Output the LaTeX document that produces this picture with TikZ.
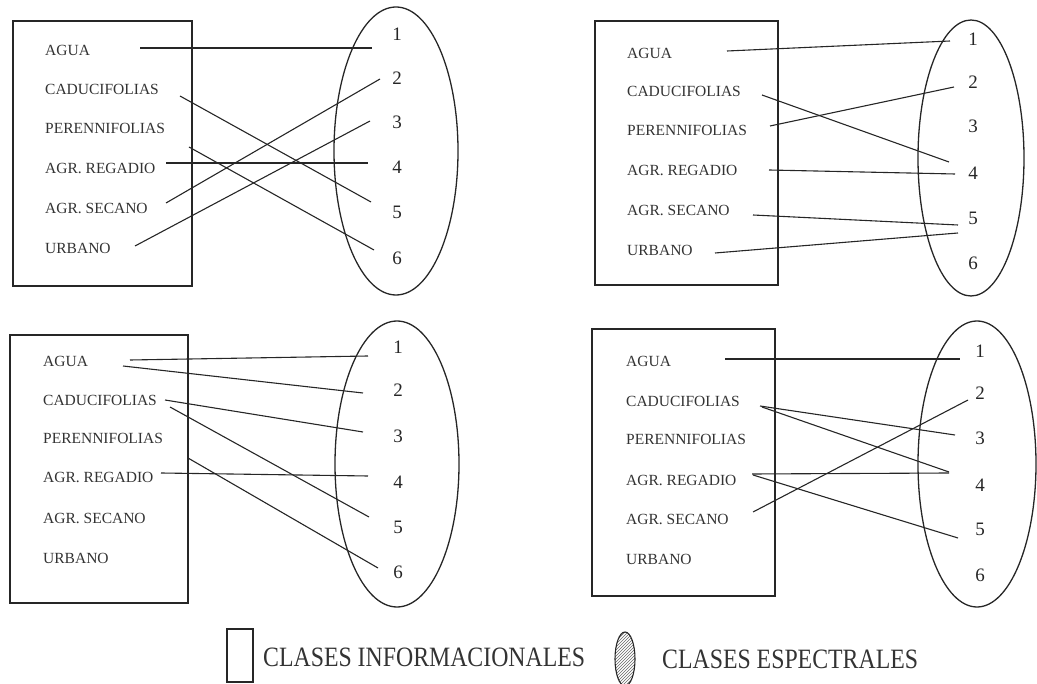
\documentclass[tikz,border=0pt]{standalone}
\usepackage{fontspec}
\setmainfont{Liberation Serif}
\usetikzlibrary{patterns}
\begin{document}
\begin{tikzpicture}[x=1pt,y=-1pt,
  ink/.style={draw=black!85},
  infobox/.style={ink,line width=1.3pt},
  specoval/.style={ink,line width=1.3pt},
  link/.style={ink,line width=1.1pt},
  clase/.style={anchor=west,inner sep=0pt,text=black!80,font=\fontsize{15.5}{16}\selectfont},
  num/.style={inner sep=0pt,text=black!85,font=\fontsize{19}{20}\selectfont},
  legtext/.style={anchor=west,inner sep=0pt,text=black!80,xscale=0.85,font=\fontsize{28}{30}\selectfont}]
\useasboundingbox (0,0) rectangle (1037,684);

% ---------------- upper left ----------------
\draw[infobox] (13,21) rectangle (192,286);
\draw[specoval] (396,151) ellipse [x radius=62,y radius=144];
\node[clase] (a-agua) at (45,50) {AGUA};
\node[clase] (a-cad) at (45,89) {CADUCIFOLIAS};
\node[clase] (a-per) at (45,128) {PERENNIFOLIAS};
\node[clase] (a-reg) at (45,168) {AGR. REGADIO};
\node[clase] (a-sec) at (45,208) {AGR. SECANO};
\node[clase] (a-urb) at (45,248) {URBANO};
\node[num] (a1) at (397,34) {1};
\node[num] (a2) at (397,78) {2};
\node[num] (a3) at (397,122) {3};
\node[num] (a4) at (397,167) {4};
\node[num] (a5) at (397,212) {5};
\node[num] (a6) at (397,258) {6};
\coordinate (a-agua-o) at (140,48);  \coordinate (a1-i) at (372,48);
\coordinate (a-cad-o) at (180,96);   \coordinate (a5-i) at (371,202);
\coordinate (a-per-o) at (189,147);  \coordinate (a6-i) at (374,250);
\coordinate (a-reg-o) at (166,163);  \coordinate (a4-i) at (368,163);
\coordinate (a-sec-o) at (166,203);  \coordinate (a2-i) at (380,79);
\coordinate (a-urb-o) at (135,246);  \coordinate (a3-i) at (370,121);
\draw[link] (a-agua-o) -- (a1-i);
\draw[link] (a-cad-o) -- (a5-i);
\draw[link] (a-per-o) -- (a6-i);
\draw[link] (a-reg-o) -- (a4-i);
\draw[link] (a-sec-o) -- (a2-i);
\draw[link] (a-urb-o) -- (a3-i);

% ---------------- upper right ----------------
\draw[infobox] (595,21) rectangle (778,285);
\draw[specoval] (971,158) ellipse [x radius=53,y radius=138];
\node[clase] (b-agua) at (627,53) {AGUA};
\node[clase] (b-cad) at (627,91) {CADUCIFOLIAS};
\node[clase] (b-per) at (627,130) {PERENNIFOLIAS};
\node[clase] (b-reg) at (627,170) {AGR. REGADIO};
\node[clase] (b-sec) at (627,210) {AGR. SECANO};
\node[clase] (b-urb) at (627,250) {URBANO};
\node[num] (b1) at (973,39) {1};
\node[num] (b2) at (973,82) {2};
\node[num] (b3) at (973,126) {3};
\node[num] (b4) at (973,173) {4};
\node[num] (b5) at (973,218) {5};
\node[num] (b6) at (973,263) {6};
\coordinate (b-agua-o) at (727,51);  \coordinate (b1-i) at (950,41);
\coordinate (b-cad-o) at (762,95);   \coordinate (b4-i) at (949,162);
\coordinate (b-per-o) at (770,126);  \coordinate (b2-i) at (954,87);
\coordinate (b-reg-o) at (769,170);  \coordinate (b4-j) at (955,174);
\coordinate (b-sec-o) at (753,215);  \coordinate (b5-i) at (958,225);
\coordinate (b-urb-o) at (715,253);  \coordinate (b5-j) at (958,233);
\draw[link] (b-agua-o) -- (b1-i);
\draw[link] (b-cad-o) -- (b4-i);
\draw[link] (b-per-o) -- (b2-i);
\draw[link] (b-reg-o) -- (b4-j);
\draw[link] (b-sec-o) -- (b5-i);
\draw[link] (b-urb-o) -- (b5-j);

% ---------------- lower left ----------------
\draw[infobox] (10,335) rectangle (188,603);
\draw[specoval] (397,464) ellipse [x radius=62,y radius=143];
\node[clase] (c-agua) at (43,361) {AGUA};
\node[clase] (c-cad) at (43,400) {CADUCIFOLIAS};
\node[clase] (c-per) at (43,438) {PERENNIFOLIAS};
\node[clase] (c-reg) at (43,477) {AGR. REGADIO};
\node[clase] (c-sec) at (43,518) {AGR. SECANO};
\node[clase] (c-urb) at (43,558) {URBANO};
\node[num] (c1) at (398,347) {1};
\node[num] (c2) at (398,390) {2};
\node[num] (c3) at (398,436) {3};
\node[num] (c4) at (398,482) {4};
\node[num] (c5) at (398,527) {5};
\node[num] (c6) at (398,572) {6};
\coordinate (c-agua-o) at (130,360); \coordinate (c1-i) at (368,356);
\coordinate (c-agua-p) at (123,366); \coordinate (c2-i) at (363,393);
\coordinate (c-cad-o) at (165,400);  \coordinate (c3-i) at (363,432);
\coordinate (c-cad-p) at (170,407);  \coordinate (c5-i) at (369,517);
\coordinate (c-per-o) at (188,458);  \coordinate (c6-i) at (378,568);
\coordinate (c-reg-o) at (161,473);  \coordinate (c4-i) at (368,476);
\draw[link] (c-agua-o) -- (c1-i);
\draw[link] (c-agua-p) -- (c2-i);
\draw[link] (c-cad-o) -- (c3-i);
\draw[link] (c-cad-p) -- (c5-i);
\draw[link] (c-per-o) -- (c6-i);
\draw[link] (c-reg-o) -- (c4-i);

% ---------------- lower right ----------------
\draw[infobox] (592,329) rectangle (775,596);
\draw[specoval] (977,464) ellipse [x radius=59,y radius=143];
\node[clase] (d-agua) at (626,361) {AGUA};
\node[clase] (d-cad) at (626,401) {CADUCIFOLIAS};
\node[clase] (d-per) at (626,439) {PERENNIFOLIAS};
\node[clase] (d-reg) at (626,480) {AGR. REGADIO};
\node[clase] (d-sec) at (626,519) {AGR. SECANO};
\node[clase] (d-urb) at (626,559) {URBANO};
\node[num] (d1) at (980,351) {1};
\node[num] (d2) at (980,393) {2};
\node[num] (d3) at (980,438) {3};
\node[num] (d4) at (980,485) {4};
\node[num] (d5) at (980,529) {5};
\node[num] (d6) at (980,575) {6};
\coordinate (d-agua-o) at (725,359); \coordinate (d1-i) at (960,359);
\coordinate (d-cad-o) at (760,406);  \coordinate (d3-i) at (955,435);
\coordinate (d-cad-p) at (762,407);  \coordinate (d4-i) at (949,472);
\coordinate (d-reg-o) at (752,474);  \coordinate (d4-j) at (949,473);
\coordinate (d-reg-p) at (753,475);  \coordinate (d5-i) at (958,538);
\coordinate (d-sec-o) at (753,512);  \coordinate (d2-i) at (968,400);
\draw[link] (d-agua-o) -- (d1-i);
\draw[link] (d-cad-o) -- (d3-i);
\draw[link] (d-cad-p) -- (d4-i);
\draw[link] (d-reg-o) -- (d4-j);
\draw[link] (d-reg-p) -- (d5-i);
\draw[link] (d-sec-o) -- (d2-i);

% ---------------- key ----------------
\draw[infobox,line width=1.1pt] (227,629) rectangle (253,682);
\node[legtext] (key-info) at (263,657) {CLASES INFORMACIONALES};
\draw[ink,line width=1.1pt,pattern=north east lines,pattern color=black!60]
  (625,659) ellipse [x radius=10,y radius=27];
\node[legtext] (key-spec) at (662,659) {CLASES ESPECTRALES};
\end{tikzpicture}
\end{document}
